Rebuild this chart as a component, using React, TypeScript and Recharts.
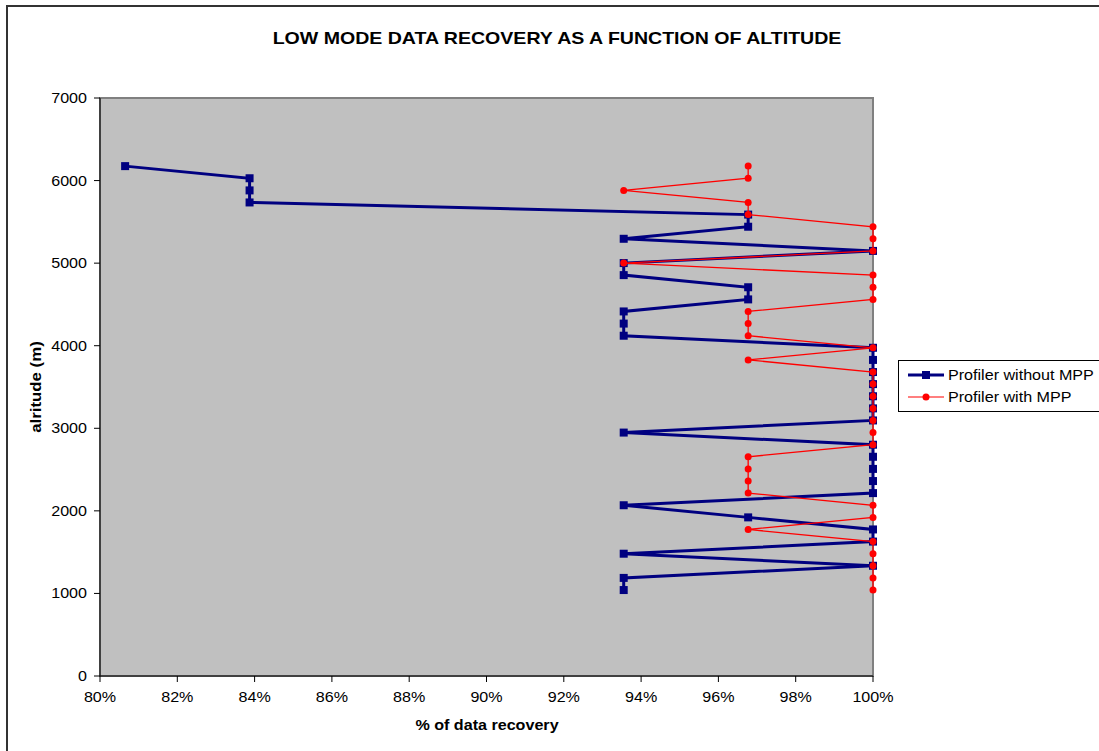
import React from 'react';
import {
    ScatterChart,
    Scatter,
    XAxis,
    YAxis,
    CartesianGrid,
    ReferenceArea,
} from 'recharts';

// Range gate altitudes (m), lowest first
const ALTITUDES = [
    1041, 1188, 1335, 1481, 1628, 1775, 1921, 2068, 2215, 2361,
    2508, 2655, 2801, 2948, 3095, 3241, 3388, 3535, 3681, 3828,
    3975, 4121, 4268, 4415, 4561, 4708, 4855, 5001, 5148, 5295,
    5441, 5588, 5735, 5881, 6028, 6175
];

// % of data recovered at each gate
const WITHOUT_MPP = [
    93.55, 93.55, 100, 93.55, 100, 100, 96.77, 93.55, 100, 100,
    100, 100, 100, 93.55, 100, 100, 100, 100, 100, 100,
    100, 93.55, 93.55, 93.55, 96.77, 96.77, 93.55, 93.55, 100, 93.55,
    96.77, 96.77, 83.87, 83.87, 83.87, 80.65
];

const WITH_MPP = [
    100, 100, 100, 100, 100, 96.77, 100, 100, 96.77, 96.77,
    96.77, 96.77, 100, 100, 100, 100, 100, 100, 100, 96.77,
    100, 96.77, 96.77, 96.77, 100, 100, 100, 93.55, 100, 100,
    100, 96.77, 96.77, 93.55, 96.77, 96.77
];

const X_TICKS = [80, 82, 84, 86, 88, 90, 92, 94, 96, 98, 100];
const Y_TICKS = [0, 1000, 2000, 3000, 4000, 5000, 6000, 7000];

const BLUE = '#000080';
const RED = '#FF0000';
const FONT = '"Liberation Sans", Arial, sans-serif';
const STRETCH = 1.15;

const withoutData = ALTITUDES.map((alt, i) => ({ pct: WITHOUT_MPP[i], alt }));
const withData = ALTITUDES.map((alt, i) => ({ pct: WITH_MPP[i], alt }));

const SquareDot = (props: any) => {
    const { cx, cy } = props;
    return <rect x={cx - 4} y={cy - 4} width={8} height={8} fill={BLUE} />;
};

const RoundDot = (props: any) => {
    const { cx, cy } = props;
    return <circle cx={cx} cy={cy} r={3.5} fill={RED} />;
};

// tick text, slightly widened like the old spreadsheet output
const XTick = (props: any) => {
    const { x, y, payload } = props;
    return (
        <g transform={`translate(${x},${y})`}>
            <text transform={`scale(${STRETCH},1)`} textAnchor="middle" dy={16}
                fill="#000" fontSize={14} fontFamily={FONT}>
                {`${payload.value}%`}
            </text>
        </g>
    );
};

const YTick = (props: any) => {
    const { x, y, payload } = props;
    return (
        <g transform={`translate(${x},${y})`}>
            <text transform={`scale(${STRETCH},1)`} textAnchor="end" dy={5}
                fill="#000" fontSize={14} fontFamily={FONT}>
                {payload.value}
            </text>
        </g>
    );
};

const textBase: React.CSSProperties = {
    position: 'absolute',
    fontFamily: FONT,
    color: '#000',
    whiteSpace: 'nowrap',
};

const LegendBox = () => (
    <div
        style={{
            position: 'absolute',
            left: 898,
            top: 360,
            width: 210,
            height: 52,
            border: '1px solid #000',
            background: '#fff',
            fontFamily: FONT,
            fontSize: 14,
            color: '#000',
            boxSizing: 'border-box',
            padding: '3px 0 0 9px',
        }}
    >
        {[
            { name: 'Profiler without MPP', color: BLUE, width: 3, dot: 'square' },
            { name: 'Profiler with MPP', color: RED, width: 1.2, dot: 'circle' },
        ].map((item) => (
            <div key={item.name} style={{ display: 'flex', alignItems: 'center', height: 22 }}>
                <svg width={36} height={12} style={{ marginRight: 4, flexShrink: 0 }}>
                    <line x1={0} y1={6} x2={36} y2={6} stroke={item.color} strokeWidth={item.width} />
                    {item.dot === 'square'
                        ? <rect x={14} y={2} width={8} height={8} fill={item.color} />
                        : <circle cx={18} cy={6} r={3.5} fill={item.color} />}
                </svg>
                <span style={{ display: 'inline-block', transform: `scaleX(${STRETCH})`, transformOrigin: 'left center' }}>
                    {item.name}
                </span>
            </div>
        ))}
    </div>
);

const App: React.FC = () => {
    return (
        <div style={{ position: 'absolute', left: 0, top: 0, width: 1099, height: 751, background: '#fff', overflow: 'hidden' }}>
            <div
                style={{
                    position: 'absolute',
                    left: 6,
                    top: 5,
                    width: 1099,
                    height: 751,
                    borderLeft: '2px solid #333',
                    borderTop: '2px solid #333',
                }}
            />
            <div style={{ position: 'absolute', left: 0, top: 0 }}>
                <ScatterChart
                    width={1099}
                    height={751}
                    margin={{ top: 98, right: 226, bottom: 45, left: 40 }}
                >
                    <ReferenceArea
                        x1={80}
                        x2={100}
                        y1={0}
                        y2={7000}
                        fill="#C0C0C0"
                        fillOpacity={1}
                        stroke="#808080"
                        strokeWidth={2}
                    />
                    <CartesianGrid
                        vertical={false}
                        horizontal
                        stroke="#333"
                        strokeWidth={1}
                        fill="none"
                    />
                    <XAxis
                        type="number"
                        dataKey="pct"
                        domain={[80, 100]}
                        ticks={X_TICKS}
                        tick={<XTick />}
                        tickLine={{ stroke: '#000' }}
                        tickSize={6}
                        tickMargin={4}
                        axisLine={{ stroke: '#000' }}
                        height={30}
                    />
                    <YAxis
                        type="number"
                        dataKey="alt"
                        domain={[0, 7000]}
                        ticks={Y_TICKS}
                        tick={<YTick />}
                        tickLine={{ stroke: '#000' }}
                        tickSize={6}
                        tickMargin={7}
                        axisLine={{ stroke: '#000' }}
                        width={60}
                    />
                    <Scatter
                        name="Profiler without MPP"
                        data={withoutData}
                        line={{ stroke: BLUE, strokeWidth: 3 }}
                        lineType="joint"
                        shape={<SquareDot />}
                        isAnimationActive={false}
                    />
                    <Scatter
                        name="Profiler with MPP"
                        data={withData}
                        line={{ stroke: RED, strokeWidth: 1.3 }}
                        lineType="joint"
                        shape={<RoundDot />}
                        isAnimationActive={false}
                    />
                </ScatterChart>
            </div>
            <div
                style={{
                    ...textBase,
                    left: 0,
                    top: 29,
                    width: 1114,
                    textAlign: 'center',
                    fontWeight: 'bold',
                    fontSize: 17,
                    transform: `scaleX(${STRETCH})`,
                }}
            >
                LOW MODE DATA RECOVERY AS A FUNCTION OF ALTITUDE
            </div>
            <div
                style={{
                    ...textBase,
                    left: 387,
                    top: 717,
                    width: 200,
                    textAlign: 'center',
                    fontWeight: 'bold',
                    fontSize: 14,
                    transform: `scaleX(${STRETCH})`,
                }}
            >
                % of data recovery
            </div>
            <div
                style={{
                    ...textBase,
                    left: 37 - 100,
                    top: 387 - 9,
                    width: 200,
                    textAlign: 'center',
                    fontWeight: 'bold',
                    fontSize: 14,
                    transform: `rotate(-90deg) scaleX(1.2)`,
                    transformOrigin: '100px 9px',
                }}
            >
                alritude (m)
            </div>
            <LegendBox />
        </div>
    );
};

export default App;
